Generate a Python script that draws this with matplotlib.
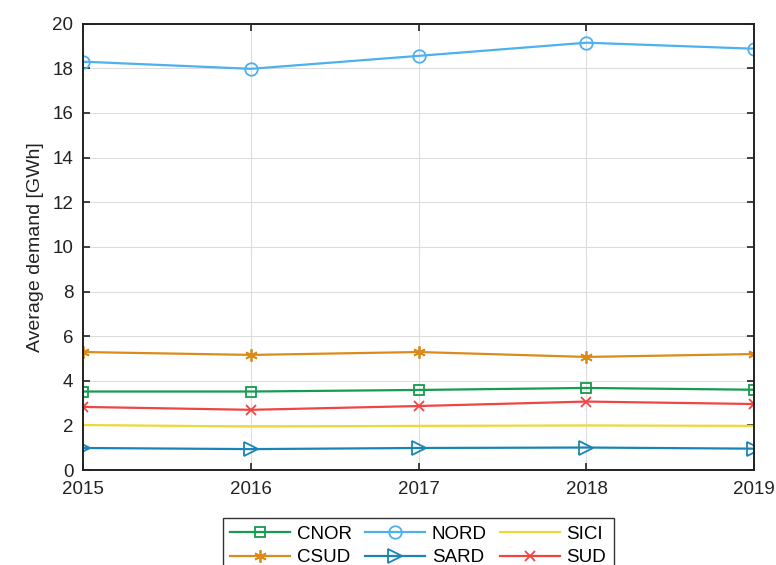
import matplotlib.pyplot as plt

plt.rcParams['font.family'] = ['Liberation Sans', 'DejaVu Sans']

years = [2015, 2016, 2017, 2018, 2019]
cnor = [3.52, 3.52, 3.59, 3.68, 3.60]
nord = [18.30, 17.98, 18.56, 19.15, 18.88]
sici = [2.02, 1.95, 1.98, 2.00, 1.98]
csud = [5.29, 5.16, 5.29, 5.07, 5.20]
sard = [0.99, 0.94, 0.99, 1.01, 0.96]
sud = [2.83, 2.70, 2.87, 3.07, 2.96]

fig = plt.figure(figsize=(7.76, 5.65), dpi=100)
ax = fig.add_axes([0.107, 0.168, 0.865, 0.790])

h_cnor, = ax.plot(years, cnor, color='#169B50', marker='s', mfc='none', ms=7, mew=1.3, lw=1.6, label='CNOR')
h_nord, = ax.plot(years, nord, color='#4DB1F0', marker='o', mfc='none', ms=9, mew=1.3, lw=1.6, label='NORD')
h_sici, = ax.plot(years, sici, color='#EDD83A', lw=1.6, label='SICI')
h_csud, = ax.plot(years, csud, color='#DB8B1C', marker=(6, 2, 0), ms=9, mew=1.3, lw=1.6, label='CSUD')
h_sard, = ax.plot(years, sard, color='#1A84B8', marker='>', mfc='none', ms=10, mew=1.3, lw=1.6, label='SARD')
h_sud, = ax.plot(years, sud, color='#F04545', marker='x', ms=7, mew=1.3, lw=1.6, label='SUD')

ax.set_xlim(2015, 2019)
ax.set_ylim(0, 20)
ax.set_xticks(years)
ax.set_yticks(range(0, 21, 2))
ax.grid(True, color='#dddddd', lw=0.8)
ax.tick_params(direction='in', top=True, right=True, labelsize=13.5, length=5, width=1.2, colors='#222222')
ax.tick_params(axis='x', pad=8)
ax.tick_params(axis='y', pad=7)
for s in ax.spines.values():
    s.set_linewidth(1.4)
    s.set_color('#222222')
ax.set_ylabel('Average demand [GWh]', fontsize=14, color='#222222', labelpad=6)

# matplotlib fills legend column-wise, so reorder for MATLAB row-wise look
hs = [h_cnor, h_csud, h_nord, h_sard, h_sici, h_sud]
leg = fig.legend(hs, [h.get_label() for h in hs], ncol=3, loc='upper center',
                 bbox_to_anchor=(0.539, 1 - 518 / 565), fontsize=13.5, handlelength=3.2,
                 fancybox=False, edgecolor='#333333', framealpha=1, columnspacing=0.7,
                 handletextpad=0.35, labelspacing=0.35, borderpad=0.4, borderaxespad=0)
leg.get_frame().set_linewidth(1.0)

fig.savefig('out.png', dpi=100)
